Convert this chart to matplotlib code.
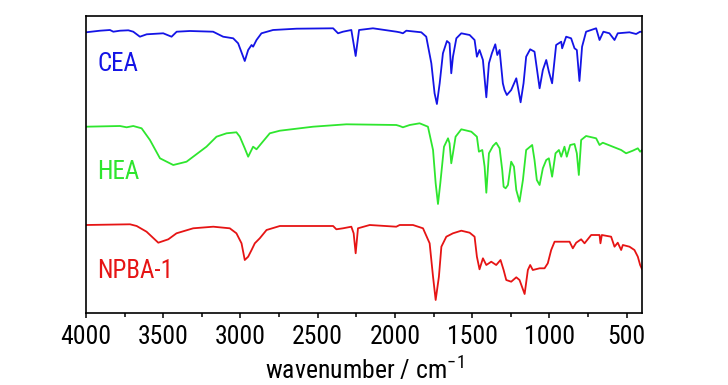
import matplotlib
matplotlib.use("Agg")
import matplotlib.pyplot as plt
from matplotlib import font_manager

# FTIR spectra, values (arbitrary transmittance units, offset per trace)
cea_wn = [4000, 3909, 3845, 3823, 3780, 3726, 3694, 3651, 3607, 3500, 3446, 3413, 3327, 3177,
          3112, 3047, 3015, 2972, 2950, 2928, 2918, 2896, 2864, 2789, 2637, 2400, 2368, 2336,
          2282, 2254, 2232, 2142, 1990, 1969, 1948, 1926, 1829, 1797, 1764, 1743, 1728, 1710,
          1689, 1663, 1646, 1635, 1624, 1602, 1570, 1516, 1484, 1469, 1452, 1430, 1408, 1391,
          1372, 1350, 1337, 1322, 1301, 1290, 1275, 1247, 1214, 1204, 1186, 1167, 1150, 1124,
          1096, 1063, 1042, 1020, 1003, 982, 956, 923, 917, 891, 859, 837, 822, 805, 788, 762,
          697, 675, 650, 611, 578, 557, 481, 438, 412, 400]
cea_t = [280.7, 282.3, 283, 281.3, 282.3, 282.7, 281.3, 276.3, 278.7, 279.7, 276.3, 281.3, 282,
         281.3, 276.3, 274.7, 269.7, 252, 263, 268, 266.3, 273, 279.7, 283, 284.3, 284.7, 279.7,
         281.3, 283, 257, 283, 284.7, 281.3, 280.7, 279.7, 282.3, 280.7, 276.3, 249.7, 219.7,
         209, 229.7, 259.7, 272, 269.7, 239.7, 256.3, 274.7, 279.7, 278, 273, 256.3, 263, 253,
         215.7, 249.7, 259.7, 268.7, 258, 263, 229.7, 223, 218, 223, 234.7, 226.3, 210.7, 229.7,
         256.3, 263.7, 261.3, 224.7, 243, 253, 241.3, 229.7, 268, 271.3, 264.7, 276.3, 274.7,
         264.7, 263, 232, 266.3, 281.3, 284.7, 273, 281.3, 279.7, 273, 279.7, 280.7, 279, 281.3,
         281]

hea_wn = [4000, 3780, 3737, 3694, 3640, 3586, 3521, 3435, 3349, 3220, 3155, 3090, 3026, 3004,
          2972, 2950, 2918, 2896, 2864, 2810, 2745, 2530, 2314, 1991, 1969, 1948, 1904, 1840,
          1786, 1753, 1736, 1721, 1706, 1682, 1656, 1646, 1635, 1624, 1607, 1570, 1505, 1469,
          1456, 1434, 1419, 1408, 1391, 1365, 1344, 1322, 1305, 1296, 1283, 1268, 1247, 1229,
          1214, 1193, 1171, 1150, 1111, 1096, 1081, 1063, 1042, 1020, 1003, 982, 960, 938, 923,
          902, 887, 865, 837, 822, 809, 794, 762, 697, 675, 654, 589, 535, 503, 460, 427, 412, 400]
hea_t = [186.3, 187, 185.7, 187, 184.7, 173, 154.7, 148, 151.3, 166.3, 176.3, 179.7, 180.7,
         176.3, 164.7, 156.3, 166.3, 163.7, 169.7, 179.7, 182.3, 186.3, 188.7, 188, 187, 185.7,
         188, 189.7, 186.3, 163, 129.7, 109, 129.7, 166.3, 174.7, 169.7, 149.7, 159.7, 176.3,
         183.7, 181.3, 176.3, 161.3, 163, 146.3, 120.3, 159.7, 167, 170.3, 164.7, 143, 126.3,
         124.7, 128, 151.3, 146.3, 123, 111.3, 133, 163, 168, 153, 133, 128, 144.7, 153, 154.7,
         136.3, 159.7, 163, 156.3, 166.3, 156.3, 168, 169, 159.7, 138, 173, 177, 174.7, 168,
         170.3, 166.3, 163, 159.7, 162.3, 164.7, 161.3, 163]

npba_wn = [4000, 3715, 3672, 3608, 3532, 3467, 3414, 3306, 3176, 3069, 3026, 2993, 2972, 2950,
           2928, 2907, 2875, 2831, 2745, 2400, 2379, 2336, 2282, 2267, 2254, 2239, 2163, 1991,
           1969, 1883, 1818, 1775, 1753, 1736, 1715, 1699, 1667, 1624, 1570, 1516, 1484, 1469,
           1452, 1430, 1408, 1376, 1344, 1316, 1296, 1279, 1247, 1214, 1193, 1160, 1139, 1124,
           1107, 1063, 1031, 1010, 988, 966, 913, 869, 848, 826, 794, 772, 729, 675, 669, 660,
           600, 578, 557, 535, 524, 481, 449, 427, 412, 400]
npba_t = [88, 88.7, 87, 81.3, 70.3, 73.7, 79.7, 84.7, 86.3, 84.7, 79.7, 69.7, 53, 56.3, 63,
          69.7, 74.7, 83, 87, 87, 83.7, 84.7, 86.3, 79.7, 59.7, 84.7, 88, 86.3, 88, 88, 84.7,
          69.7, 36.3, 13, 36.3, 66.3, 76.3, 79.7, 82.3, 80.3, 76.3, 56.3, 43.7, 54.7, 48, 51.3,
          48, 53, 43, 33, 31.3, 35.7, 33, 19, 43, 48, 43, 44.7, 44.7, 49.7, 63, 71.3, 71.3, 71.3,
          64.7, 70.3, 73.7, 69.7, 78, 78, 69.7, 78, 76.3, 66.3, 70.3, 63, 68, 66.3, 63, 56.3,
          48, 44]

names = ["CEA", "HEA", "NPBA-1"]
colors = ["#1414e6", "#2ee62e", "#e61414"]
label_y = [0.837, 0.474, 0.143]

installed = {f.name for f in font_manager.fontManager.ttflist}
family = "Roboto Condensed" if "Roboto Condensed" in installed else "Liberation Sans"
plt.rcParams["font.family"] = [family, "DejaVu Sans"]
plt.rcParams["mathtext.fontset"] = "custom"
plt.rcParams["mathtext.rm"] = family

fig = plt.figure(figsize=(7.28, 3.85), dpi=100)
ax = fig.add_axes([86 / 728, 1 - 313 / 385, 556 / 728, 297 / 385])

for wn, t, name, c, ly in zip([cea_wn, hea_wn, npba_wn], [cea_t, hea_t, npba_t],
                              names, colors, label_y):
    ax.plot(wn, t, color=c, lw=1.3)
    ax.text(0.02, ly, name, color=c, fontsize=18, ha="left", va="center",
            transform=ax.transAxes)

ax.set_xlim(4000, 400)
ax.set_ylim(0, 297)
ax.set_xticks([4000, 3500, 3000, 2500, 2000, 1500, 1000, 500])
ax.set_xticks(range(3750, 400, -500), minor=True)
ax.set_yticks([])
ax.tick_params(axis="x", which="major", direction="out", length=3.8, width=1.1,
               labelsize=18.5, pad=5)
ax.tick_params(axis="x", which="minor", direction="out", length=3, width=1.1)
for s in ax.spines.values():
    s.set_linewidth(1.2)
ax.set_xlabel("wavenumber / cm$^{-1}$", fontsize=18.5, labelpad=4)

fig.savefig("out.png", dpi=100)
